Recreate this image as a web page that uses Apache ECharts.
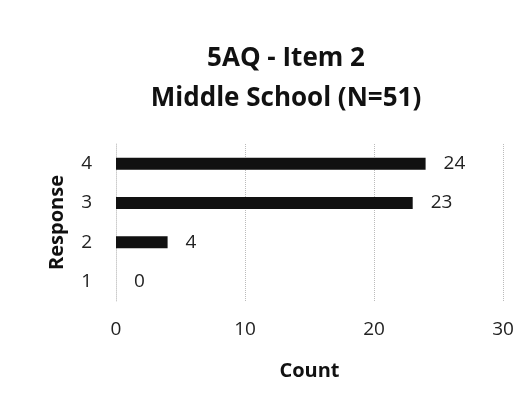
<!DOCTYPE html>
<html>
<head>
<meta charset="utf-8">
<script src="https://cdn.jsdelivr.net/npm/echarts@6/dist/echarts.min.js"></script>
<style>
  html, body { margin: 0; padding: 0; background: #fff; }
  #chart { width: 531px; height: 414px; }
</style>
</head>
<body>
<div id="chart"></div>
<script>
// 数据
const responses = ['1', '2', '3', '4'];
const counts = [0, 4, 23, 24];
const countTicks = [0, 10, 20, 30];

const font = '"Open Sans", "Noto Sans", sans-serif';

const chart = echarts.init(document.getElementById('chart'));
chart.setOption({
    animation: false,
    backgroundColor: '#fff',
    title: {
        text: '5AQ - Item 2\nMiddle School (N=51)',
        left: 281,
        top: 34,
        textAlign: 'center',
        textStyle: { fontFamily: font, fontSize: 26, fontWeight: 'bold', color: '#111', lineHeight: 40 }
    },
    grid: { left: 116, right: 28, top: 144, bottom: 113 },
    xAxis: {
        type: 'value',
        min: 0, max: 30, interval: 10,
        name: 'Count',
        nameLocation: 'middle',
        nameGap: 60,
        nameTextStyle: { fontFamily: font, fontSize: 20, fontWeight: 'bold', color: '#111' },
        axisLine: { show: false },
        axisTick: { show: false },
        axisLabel: {
            fontFamily: font, fontSize: 19, color: '#222', margin: 19,
            formatter: v => countTicks.includes(v) ? String(v) : ''
        },
        splitLine: { show: true, lineStyle: { color: '#bbb', type: 'dotted', width: 1 } }
    },
    yAxis: {
        type: 'category',
        data: responses,
        name: 'Response',
        nameLocation: 'middle',
        nameGap: 49,
        nameTextStyle: { fontFamily: font, fontSize: 20, fontWeight: 'bold', color: '#111' },
        axisLine: { show: true, lineStyle: { color: '#ccc', type: 'dotted' } },
        axisTick: { show: false },
        axisLabel: { fontFamily: font, fontSize: 19, color: '#222', margin: 24 }
    },
    series: [{
        type: 'bar',
        data: counts,
        barWidth: 12,
        itemStyle: { color: '#111' },
        label: {
            show: true,
            position: 'right',
            distance: 18,
            fontFamily: font, fontSize: 19, color: '#222'
        }
    }]
});
</script>
</body>
</html>
